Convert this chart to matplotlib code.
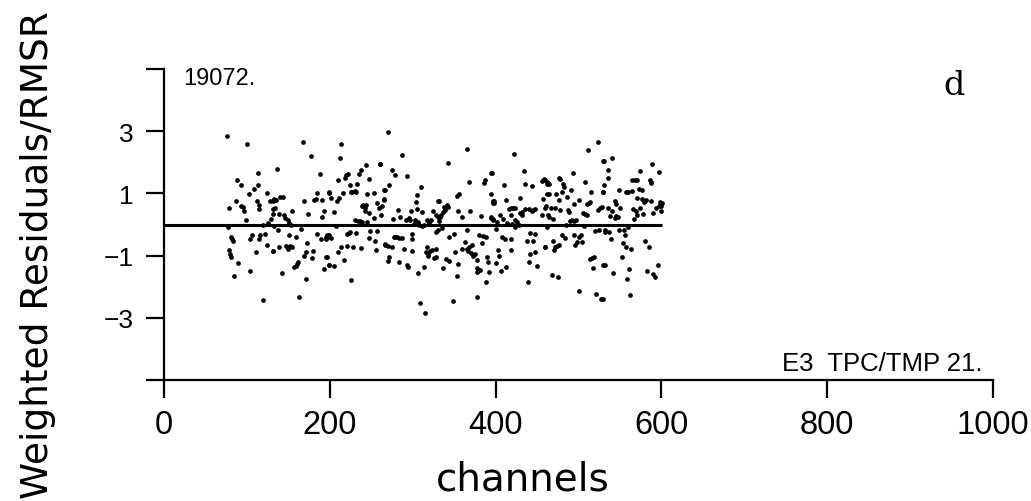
import numpy as np
import matplotlib
matplotlib.use("Agg")
import matplotlib.pyplot as plt

# Weighted residuals (divided by RMSR) versus channel number
channel = [
    76, 100, 113, 88, 93, 113, 103, 108, 124, 87, 78, 93, 97, 112, 115, 128, 133, 131, 129, 99,
    120, 77, 81, 83, 79, 81, 89, 84, 104, 106, 116, 122, 114, 124, 111, 131, 104, 120,
    95, 114, 80, 82, 126,
    168, 177, 136, 188, 143, 140, 135, 131, 134, 132, 139, 145, 155, 169, 174, 181, 184, 191, 199, 193,
    191, 149, 153, 133, 138, 165, 185, 189, 195, 199, 151, 159, 154, 147, 139, 132, 149, 173, 180, 171,
    169, 178, 196, 199, 193, 162, 159, 157, 142, 171, 163,
    160, 152, 183, 146, 151, 196,
    213, 212, 244, 261, 238, 235, 222, 218, 210, 247, 224, 233, 227, 232, 199, 202, 209, 211, 216, 245,
    253, 265, 265, 257, 239, 243, 259, 247, 253, 262, 205, 231, 239, 245, 207, 197, 201, 221, 224, 232,
    249, 257, 247, 254, 266, 214, 221, 228, 238, 256, 210, 197, 217, 199, 205, 225,
    220, 226, 230, 240, 244, 242, 236, 234, 198, 223,
    270, 287, 261, 275, 279, 293, 267, 272, 310, 305, 304, 265, 263, 332, 282, 298, 305, 311, 325, 328,
    276, 285, 292, 297, 301, 306, 311, 317, 322, 330, 299, 299, 328, 277, 281, 287, 266, 270, 275, 290,
    299, 317, 321, 323, 318, 326, 271, 270, 283, 293, 294, 314, 306, 309, 315,
    279, 284, 308, 314, 320, 316, 319, 296, 303,
    365, 342, 395, 387, 386, 368, 356, 353, 394, 398, 397, 331, 343, 339, 336, 333, 355, 369, 360, 382,
    394, 397, 335, 330, 344, 350, 366, 380, 388, 384, 363, 360, 365, 368, 371, 370, 373, 351, 328, 340,
    344, 337, 355, 378, 390, 391, 328, 377, 381, 378, 392, 354, 388, 349, 377,
    338, 341, 334, 332, 367, 375, 379, 385, 395,
    422, 396, 434, 410, 435, 444, 456, 462, 464, 457, 412, 429, 397, 398, 416, 421, 424, 436, 432, 444,
    448, 459, 456, 405, 409, 418, 432, 397, 402, 424, 426, 400, 424, 462, 408, 411, 418, 441, 447, 438,
    445, 460, 418, 403, 404, 442, 448, 401, 413, 406, 440, 450, 439,
    458, 460, 397, 419, 430, 440, 445, 414, 420, 428, 461,
    524, 512, 531, 493, 476, 462, 465, 508, 481, 482, 491, 515, 529, 473, 480, 486, 462, 477, 501, 495,
    510, 514, 526, 523, 467, 472, 478, 487, 489, 506, 510, 464, 469, 492, 497, 485, 507, 520, 525, 532,
    469, 480, 484, 495, 500, 503, 498, 504, 496, 460, 472, 477, 470, 514, 519, 518, 530, 468, 475, 500,
    521, 527,
    463, 478, 513, 508, 474, 516, 463, 490, 494,
    541, 530, 589, 535, 574, 597, 535, 564, 570, 586, 587, 531, 530, 549, 557, 564, 573, 577, 570, 577,
    544, 545, 579, 587, 598, 597, 593, 528, 535, 550, 541, 566, 569, 574, 578, 590, 599, 538, 544, 548,
    567, 532, 537, 549, 555, 560, 556, 539, 554, 557, 563, 580, 585, 553, 532, 542, 561, 559, 583, 590,
    592, 596, 562, 529,
    560, 568, 588, 582, 600, 601, 571, 545,
]

residual = [
    2.84, 2.60, 1.66, 1.44, 1.28, 1.28, 0.97, 1.15, 1.01, 0.74, 0.53, 0.61, 0.45, 0.77, 0.50, 0.75, 0.83, 0.50, 0.18, 0.15,
    0.00, -0.09, -0.41, -0.52, -0.82, -1.05, -1.25, -1.65, -0.46, -0.35, -0.35, -0.32, -0.46, -0.65, -0.89, -0.86, -1.48, -2.43,
    0.55, 0.62, -0.94, -0.46, 0.05,
    2.66, 2.19, 1.77, 1.63, 0.90, 0.88, 0.80, 0.75, 0.54, 0.34, 0.34, 0.32, 0.43, 0.75, 0.34, 0.80, 1.01, 0.80, 1.01, 0.45,
    0.24, 0.13, -0.03, -0.06, -0.19, -0.14, -0.30, -0.46, -0.46, -0.35, -0.35, -0.39, -0.73, -0.68, -0.73, -0.86, -0.78, -0.60, -0.84, -0.89,
    -1.00, -1.08, -1.03, -1.29, -1.43, -1.22, -1.32, -1.38, -1.56, -1.74, -2.32,
    -1.27, -0.70, 0.83, 0.20, 0.05, -0.40,
    2.60, 2.15, 1.92, 1.94, 1.74, 1.61, 1.63, 1.50, 1.44, 1.47, 1.28, 1.29, 1.06, 1.04, 1.04, 0.86, 0.77, 0.86, 1.01, 0.97,
    1.01, 1.12, 0.80, 0.69, 0.61, 0.54, 0.54, 0.37, 0.22, 0.32, 0.40, 0.13, 0.08, 0.08, -0.06, -0.35, -0.43, -0.30, -0.25, -0.28,
    -0.22, -0.22, -0.43, -0.52, -0.65, -0.71, -0.68, -0.73, -0.75, -0.82, -0.87, -1.05, -1.14, -1.29, -1.35, -1.78,
    1.58, 1.04, 1.08, 0.62, 0.64, 0.45, 0.10, 0.12, -0.40, -0.28,
    2.98, 2.23, 1.96, 1.76, 1.60, 1.55, 1.12, 1.28, 1.20, 0.94, 0.72, 0.83, 0.61, 0.77, 0.47, 0.43, 0.50, 0.40, 0.45, 0.32,
    0.18, 0.24, 0.13, 0.13, 0.02, 0.08, -0.06, 0.13, 0.13, 0.24, -0.30, -0.46, -0.25, -0.41, -0.39, -0.43, -0.62, -0.68, -0.73, -0.78,
    -0.84, -0.73, -0.86, -0.82, -1.00, -1.08, -1.05, -1.16, -1.22, -1.29, -1.38, -1.38, -1.57, -2.54, -2.86,
    -0.40, -0.42, 0.00, -0.02, 0.05, -0.90, -0.95, 0.20, 0.15,
    2.44, 1.99, 1.66, 1.44, 1.33, 1.37, 0.97, 0.92, 0.99, 0.77, 0.69, 0.77, 0.56, 0.47, 0.40, 0.24, 0.43, 0.45, 0.24, 0.26,
    0.24, 0.13, -0.11, -0.19, -0.41, -0.30, -0.19, -0.35, -0.41, -0.60, -0.57, -0.78, -0.78, -0.73, -0.65, -0.92, -1.00, -0.89, -0.78, -1.10,
    -1.18, -1.40, -1.27, -1.14, -1.03, -1.22, -1.05, -1.40, -1.46, -1.54, -1.54, -1.65, -1.86, -2.45, -2.34,
    0.55, 0.62, 0.30, 0.10, -0.85, -0.95, -1.48, -0.38, 0.20,
    2.26, 1.66, 1.72, 1.26, 1.31, 1.23, 1.40, 1.31, 0.97, 0.83, 0.80, 0.86, 0.77, 0.69, 0.50, 0.54, 0.54, 0.50, 0.40, 0.45,
    0.50, 0.54, 0.32, 0.32, 0.18, 0.29, 0.29, 0.18, 0.08, 0.15, 0.08, -0.14, -0.09, -0.09, -0.39, -0.46, -0.46, -0.28, -0.32, -0.54,
    -0.54, -0.73, -0.82, -0.82, -1.00, -0.95, -0.89, -1.25, -1.38, -1.48, -1.20, -1.34, -1.84,
    1.45, 1.42, 0.72, 0.52, 0.38, 0.50, 0.47, 0.06, 0.02, -0.02, 0.60,
    2.66, 2.39, 2.04, 1.66, 1.49, 1.37, 1.29, 1.37, 1.31, 1.20, 1.12, 1.04, 1.04, 0.97, 1.04, 0.90, 0.97, 0.80, 0.80, 0.65,
    0.67, 0.72, 0.54, 0.47, 0.54, 0.54, 0.47, 0.47, 0.40, 0.37, 0.32, 0.24, 0.18, 0.13, 0.13, -0.03, -0.06, -0.22, -0.17, -0.25,
    -0.52, -0.35, -0.43, -0.35, -0.41, -0.35, -0.57, -0.57, -0.65, -0.73, -0.73, -0.65, -0.82, -1.11, -1.03, -1.40, -1.29, -1.61, -1.68, -2.15,
    -2.24, -2.40,
    1.33, 1.45, 0.70, 0.35, -0.70, -1.07, 0.30, 0.10, 0.12,
    2.15, 2.04, 1.94, 1.74, 1.72, 1.69, 1.51, 1.44, 1.44, 1.44, 1.33, 1.26, 1.04, 1.12, 1.04, 1.08, 1.15, 1.10, 0.86, 0.83,
    0.75, 0.65, 0.72, 0.75, 0.72, 0.58, 0.54, 0.56, 0.54, 0.54, 0.45, 0.50, 0.43, 0.54, 0.34, 0.37, 0.45, 0.26, 0.22, 0.24,
    0.18, -0.19, -0.25, -0.17, -0.19, -0.09, -0.35, -0.46, -0.60, -0.71, -0.78, -0.54, -0.71, -1.05, -1.29, -1.57, -1.43, -1.75, -1.48, -1.59,
    -1.70, -1.29, -2.26, -2.40,
    1.06, 1.44, 1.38, 0.78, 0.60, 0.70, 0.30, 0.28,
]

x_ticks = [0, 200, 400, 600, 800, 1000]
y_ticks = [-5, -3, -1, 1, 3, 5]
y_tick_labels = ["", "\u22123", "\u22121", "1", "3", ""]

channel = np.asarray(channel, dtype=float)
residual = np.asarray(residual, dtype=float)

W, H = 1031, 502
fig = plt.figure(figsize=(W / 100, H / 100), dpi=100)
fig.patch.set_facecolor("white")

x0, x1, ytop, ybot = 164, 993, 70, 381
ax = fig.add_axes([x0 / W, 1 - ybot / H, (x1 - x0) / W, (ybot - ytop) / H])
ax.set_xlim(0, 1000)
ax.set_ylim(-5, 5)

for side in ("top", "right"):
    ax.spines[side].set_visible(False)
for side in ("left", "bottom"):
    ax.spines[side].set_linewidth(1.6)
    ax.spines[side].set_color("black")

ax.set_xticks(x_ticks)
ax.set_xticklabels([str(t) for t in x_ticks], fontsize=23.5, family="Liberation Sans")
ax.set_yticks(y_ticks)
ax.set_yticklabels(y_tick_labels, fontsize=19, family="Liberation Sans")
ax.tick_params(axis="x", direction="out", length=13, width=1.6, pad=8)
ax.tick_params(axis="y", direction="out", length=13, width=1.6, pad=9)

# zero reference line across the measured channel range
ax.hlines(0, 0, channel.max(), color="black", linewidth=2.2, zorder=2)

# residual points
ax.plot(channel, residual, "o", color="black", markersize=3.4,
        markeredgewidth=0, zorder=3, clip_on=False)

# annotations
fig.text(183 / W, 1 - 79 / H, "19072.", fontsize=17, family="Liberation Sans",
         ha="left", va="center")
fig.text(954 / W, 1 - 86 / H, "d", fontsize=24, family="DejaVu Serif",
         ha="center", va="center")
fig.text(982 / W, 1 - 364 / H, "E3  TPC/TMP 21.", fontsize=18.5,
         family="Liberation Sans", ha="right", va="center")

# axis titles
fig.text(523 / W, 1 - 491 / H, "channels", fontsize=28, family="DejaVu Sans",
         ha="center", va="baseline")
fig.text(38 / W, 1 - 255 / H, "Weighted Residuals/RMSR", fontsize=27,
         family="DejaVu Sans", rotation=90, ha="center", va="center")

fig.savefig("out.png", dpi=100, facecolor="white")
